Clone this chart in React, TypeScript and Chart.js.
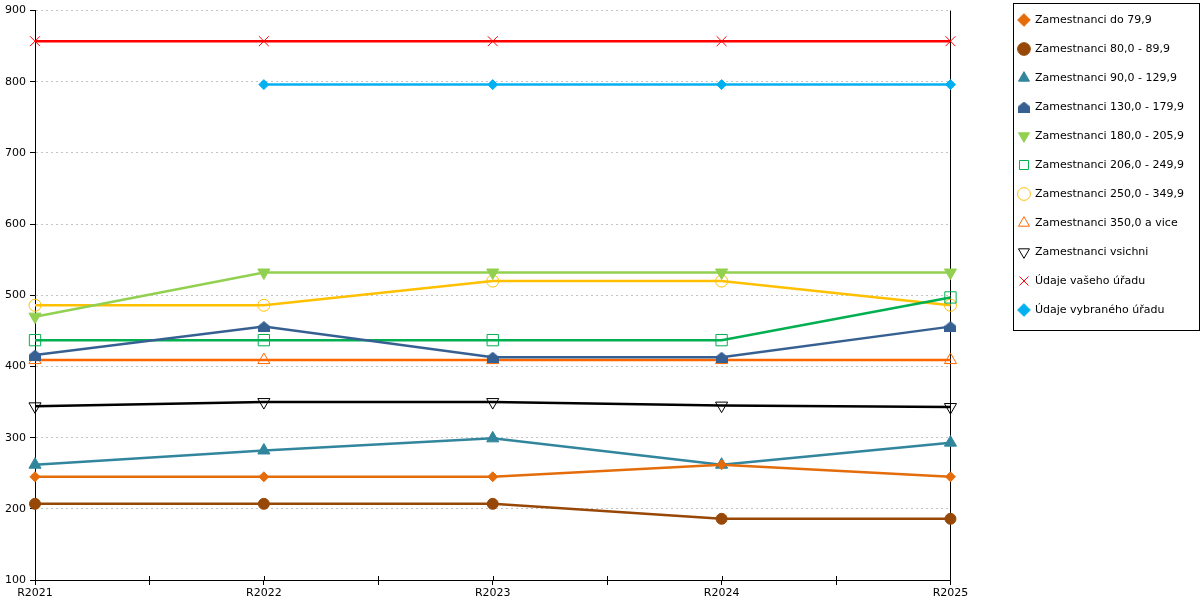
import { useEffect, useRef } from 'react';
import { Chart, registerables } from 'chart.js';

Chart.register(...registerables);

const years = ['R2021', 'R2022', 'R2023', 'R2024', 'R2025'];

const do79 = [245, 245, 245, 262, 245];
const s80 = [207, 207, 207, 186, 186];
const s90 = [262, 282, 299, 262, 293];
const s130 = [416, 456, 413, 413, 456];
const s180 = [470, 532, 532, 532, 532];
const s206 = [437, 437, 437, 437, 497];
const s250 = [486, 486, 520, 520, 486];
const s350 = [409, 409, 409, 409, 409];
const vsichni = [344, 350, 350, 345, 343];
const vaseho = [857, 857, 857, 857, 857];
const vybraneho = [null, 796, 796, 796, 796];

const yTicks = { min: 100, max: 900, step: 100 };

const FONT = { family: 'DejaVu Sans', size: 11 };

// upward "house" marker used for the 130,0 - 179,9 series
function houseMarker(color: string) {
  const c = document.createElement('canvas');
  c.width = 12;
  c.height = 11;
  const g = c.getContext('2d');
  if (g) {
    g.fillStyle = color;
    g.beginPath();
    g.moveTo(6, 0);
    g.lineTo(12, 5);
    g.lineTo(12, 11);
    g.lineTo(0, 11);
    g.lineTo(0, 5);
    g.closePath();
    g.fill();
  }
  return c;
}

function series(
  label: string,
  values: (number | null)[],
  color: string,
  pointStyle: any,
  extra: Record<string, any> = {}
) {
  return {
    label,
    data: values.map((y, i) => ({ x: i, y })),
    borderColor: color,
    backgroundColor: color,
    borderWidth: 2.5,
    clip: false,
    pointStyle,
    pointRadius: 6,
    pointHoverRadius: 6,
    pointBorderColor: color,
    pointBackgroundColor: color,
    pointBorderWidth: 1,
    ...extra,
  };
}

// move the legend next to the plot, frame it, and let x ticks cross the axis
const legendFrame = {
  id: 'legendFrame',
  afterLayout(chart: any) {
    const l = chart.legend;
    if (!l) return;
    l.left += 50;
    l.right += 50;
    l.top -= 3.5;
    l.bottom -= 3.5;
  },
  afterDraw(chart: any) {
    const ctx = chart.ctx;
    const xs = chart.scales.x;
    ctx.save();
    ctx.strokeStyle = '#000';
    ctx.lineWidth = 1;
    ctx.beginPath();
    xs.ticks.forEach((t: any) => {
      const px = Math.round(xs.getPixelForValue(t.value)) + 0.5;
      ctx.moveTo(px, xs.top - 4);
      ctx.lineTo(px, xs.top);
    });
    ctx.stroke();

    const l = chart.legend;
    if (l && l.legendHitBoxes && l.legendHitBoxes.length) {
      const hb = l.legendHitBoxes;
      const last = hb[hb.length - 1];
      const top = Math.round(hb[0].top - 12) + 0.5;
      const bottom = Math.round(last.top + last.height + 14) + 0.5;
      const left = Math.round(l.left + 13) + 0.5;
      const right = chart.width - 0.5;
      ctx.strokeRect(left, top, right - left, bottom - top);
    }
    ctx.restore();
  },
};

export default function App() {
  const canvasRef = useRef<HTMLCanvasElement>(null);
  const chartRef = useRef<Chart | null>(null);

  useEffect(() => {
    if (!canvasRef.current) return;
    if (chartRef.current) chartRef.current.destroy();

    const datasets: any[] = [
      series('Zamestnanci do 79,9', do79, '#E46C0A', 'rectRot', { pointRadius: 5 }),
      series('Zamestnanci 80,0 - 89,9', s80, '#974806', 'circle', { pointRadius: 5.5 }),
      series('Zamestnanci 90,0 - 129,9', s90, '#31859C', 'triangle', { pointRadius: 7 }),
      series('Zamestnanci 130,0 - 179,9', s130, '#376092', houseMarker('#376092')),
      series('Zamestnanci 180,0 - 205,9', s180, '#92D050', 'triangle', { pointRadius: 7, pointRotation: 180 }),
      series('Zamestnanci 206,0 - 249,9', s206, '#00B050', 'rect', { pointBackgroundColor: 'transparent', pointRadius: 8 }),
      series('Zamestnanci 250,0 - 349,9', s250, '#FFC000', 'circle', { pointBackgroundColor: 'transparent' }),
      series('Zamestnanci 350,0 a vice', s350, '#FF6600', 'triangle', { pointBackgroundColor: 'transparent', pointRadius: 7 }),
      series('Zamestnanci vsichni', vsichni, '#000000', 'triangle', { pointBackgroundColor: 'transparent', pointRadius: 7, pointRotation: 180 }),
      series('Údaje vašeho úřadu', vaseho, '#FF0000', 'crossRot', { pointRadius: 7 }),
      series('Údaje vybraného úřadu', vybraneho, '#00B0F0', 'rectRot', { pointRadius: 5 }),
    ];

    chartRef.current = new Chart(canvasRef.current, {
      type: 'line',
      data: { datasets },
      options: {
        animation: false,
        responsive: true,
        maintainAspectRatio: false,
        layout: { padding: { top: 0, right: 56, bottom: 0, left: 0 } },
        plugins: {
          tooltip: { enabled: false },
          legend: {
            position: 'right',
            align: 'start',
            labels: {
              usePointStyle: true,
              boxHeight: 9,
              padding: 18,
              color: '#000',
              font: FONT,
            },
          },
        },
        scales: {
          x: {
            type: 'linear',
            min: 0,
            max: years.length - 1,
            ticks: {
              stepSize: 0.5,
              autoSkip: false,
              maxRotation: 0,
              padding: 2,
              color: '#000',
              font: FONT,
              callback: (v: any) => (Number.isInteger(v) ? years[v] : ''),
            },
            grid: {
              color: (ctx: any) => (ctx.tick && ctx.tick.value === years.length - 1 ? '#000' : 'transparent'),
              tickColor: '#000',
              tickLength: 5,
            },
            border: { color: '#000', width: 1 },
            afterFit: (s: any) => {
              s.height = 20;
            },
          },
          y: {
            min: yTicks.min,
            max: yTicks.max,
            ticks: { stepSize: yTicks.step, padding: 4, color: '#000', font: FONT },
            grid: { color: '#c4c4c4', tickColor: '#000', tickLength: 5 },
            border: { color: '#000', width: 1, dash: [2, 3] },
            afterFit: (s: any) => {
              s.width = 35;
            },
          },
        },
      },
      plugins: [legendFrame],
    });

    return () => {
      if (chartRef.current) {
        chartRef.current.destroy();
        chartRef.current = null;
      }
    };
  }, []);

  return (
    <div style={{ position: 'absolute', left: 0, top: 0, width: 1200, height: 600, background: '#fff' }}>
      <canvas ref={canvasRef}></canvas>
    </div>
  );
}
